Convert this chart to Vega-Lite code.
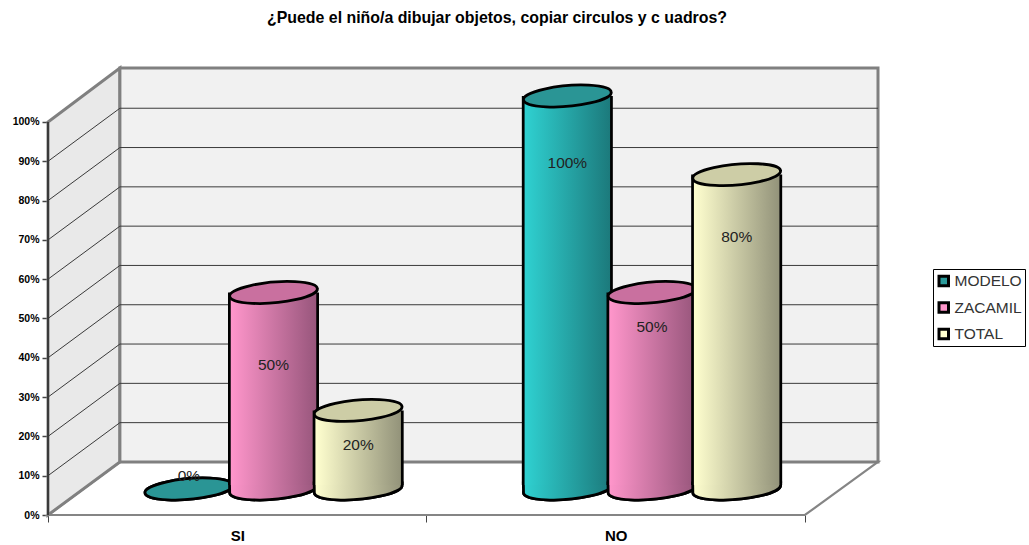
{
"$schema":"https://vega.github.io/schema/vega-lite/v6.json",
"autosize":{"type":"none"},
"padding":{"left":48,"top":68,"right":151,"bottom":30},
"width":830,"height":447,
"background":"white",
"config":{"view":{"stroke":null},"font":"Liberation Sans"},
"title":{"text":"¿Puede el niño/a dibujar objetos, copiar circulos y c uadros?","font":"Liberation Sans","fontSize":15.9,"fontWeight":"bold","color":"#000000","anchor":"middle","dx":34,"offset":36},
"datasets":{
"frame":[
{"part":"floor","x":0,"y":0,"y2":0},{"part":"floor","x":0.19,"y":0,"y2":13.5},{"part":"floor","x":2,"y":0,"y2":13.5},{"part":"floor","x":2.193,"y":13.5,"y2":13.5},
{"part":"left","x":0,"y":0,"y2":100},{"part":"left","x":0.19,"y":13.5,"y2":113.74},
{"part":"back","x":0.19,"y":13.5,"y2":113.74},{"part":"back","x":2.193,"y":13.5,"y2":113.74}
],
"grid":[
{"level":10,"x":0,"y":10},{"level":10,"x":0.19,"y":23.5},{"level":10,"x":2.193,"y":23.5},
{"level":20,"x":0,"y":20},{"level":20,"x":0.19,"y":33.5},{"level":20,"x":2.193,"y":33.5},
{"level":30,"x":0,"y":30},{"level":30,"x":0.19,"y":43.5},{"level":30,"x":2.193,"y":43.5},
{"level":40,"x":0,"y":40},{"level":40,"x":0.19,"y":53.5},{"level":40,"x":2.193,"y":53.5},
{"level":50,"x":0,"y":50},{"level":50,"x":0.19,"y":63.5},{"level":50,"x":2.193,"y":63.5},
{"level":60,"x":0,"y":60},{"level":60,"x":0.19,"y":73.5},{"level":60,"x":2.193,"y":73.5},
{"level":70,"x":0,"y":70},{"level":70,"x":0.19,"y":83.5},{"level":70,"x":2.193,"y":83.5},
{"level":80,"x":0,"y":80},{"level":80,"x":0.19,"y":93.5},{"level":80,"x":2.193,"y":93.5},
{"level":90,"x":0,"y":90},{"level":90,"x":0.19,"y":103.5},{"level":90,"x":2.193,"y":103.5}
],
"bars":[
{"answer":"SI","series":"MODELO","value":0,"label":"0%","labelAt":3.3},
{"answer":"SI","series":"ZACAMIL","value":50,"label":"50%","labelAt":31.5},
{"answer":"SI","series":"TOTAL","value":20,"label":"20%","labelAt":11.2},
{"answer":"NO","series":"MODELO","value":100,"label":"100%","labelAt":83},
{"answer":"NO","series":"ZACAMIL","value":50,"label":"50%","labelAt":41.2},
{"answer":"NO","series":"TOTAL","value":80,"label":"80%","labelAt":64.1}
]
},
"layer":[
{
"layer":[
{"data":{"name":"frame"},"transform":[{"filter":"datum.part=='floor'"}],
 "mark":{"type":"area","fill":"#ffffff","stroke":"#858585","strokeWidth":2.2,"opacity":1},
 "encoding":{
  "x":{"field":"x","type":"quantitative","scale":{"domain":[0,2.193],"nice":false,"zero":false},"axis":{"title":null,"values":[0,0.5,1,1.5,2],"labelExpr":"datum.value==0.5?'SI':datum.value==1.5?'NO':''","labelFont":"Liberation Sans","labelFontSize":15,"labelFontWeight":"bold","labelColor":"#000000","labelPadding":6,"labelOverlap":false,"labelFlush":false,"labelAngle":0,"domain":false,"grid":false,"tickColor":"#444444","tickSize":7,"tickWidth":1,"tickOpacity":{"condition":{"test":"datum.value==0.5||datum.value==1.5","value":0},"value":1}}},
  "y":{"field":"y","type":"quantitative","scale":{"domain":[0,113.74],"nice":false},"axis":{"title":null,"values":[0,10,20,30,40,50,60,70,80,90,100],"labelExpr":"datum.value+'%'","labelFont":"Liberation Sans","labelFontSize":10.5,"labelFontWeight":"bold","labelColor":"#000000","labelPadding":3,"domain":false,"grid":false,"tickColor":"#444444","tickSize":6,"tickWidth":1.5}},
  "y2":{"field":"y2"}}},
{"data":{"name":"frame"},"transform":[{"filter":"datum.part=='left'"}],
 "mark":{"type":"area","fill":"#e9e9e9","stroke":"#808080","strokeWidth":3,"opacity":1},
 "encoding":{"x":{"field":"x","type":"quantitative"},"y":{"field":"y","type":"quantitative"},"y2":{"field":"y2"}}},
{"data":{"name":"frame"},"transform":[{"filter":"datum.part=='back'"}],
 "mark":{"type":"area","fill":"#f1f1f1","stroke":"#808080","strokeWidth":3,"opacity":1},
 "encoding":{"x":{"field":"x","type":"quantitative"},"y":{"field":"y","type":"quantitative"},"y2":{"field":"y2"}}},
{"data":{"name":"grid"},
 "mark":{"type":"line","stroke":"#3a3a3a","strokeWidth":1},
 "encoding":{"x":{"field":"x","type":"quantitative"},"y":{"field":"y","type":"quantitative"},"detail":{"field":"level"}}},
{"data":{"values":[{"edge":"front"}]},"mark":{"type":"rule","stroke":"#3a3a3a","strokeWidth":2},
 "encoding":{"x":{"datum":0,"type":"quantitative"},"y":{"datum":0,"type":"quantitative"},"y2":{"datum":100}}}
]
},
{
"data":{"name":"bars"},
"encoding":{
 "x":{"field":"answer","type":"nominal","sort":["SI","NO"],"scale":{"domain":["SI","NO"],"range":[0,757],"paddingInner":0,"paddingOuter":0},"axis":null},
 "xOffset":{"field":"series","type":"nominal","sort":["MODELO","ZACAMIL","TOTAL"],"scale":{"domain":["MODELO","ZACAMIL","TOTAL"],"range":[98.5,352.5]}},
 "y":{"field":"value","type":"quantitative","stack":null,"scale":{"domain":[0,100],"range":[421,28],"nice":false},"axis":null}
},
"layer":[
{"mark":{"type":"point","filled":true,"opacity":1,"size":7744,"stroke":"#000000","strokeWidth":2.8,"shape":"M-0.996,0.087A1,0.23,-5,1,1,0.996,-0.087A1,0.23,-5,1,1,-0.996,0.087Z"},
 "encoding":{"y":{"datum":0,"type":"quantitative"},"color":{"field":"series","type":"nominal","sort":["MODELO","ZACAMIL","TOTAL"],"scale":{"domain":["MODELO","ZACAMIL","TOTAL"],"range":["#2a9a9a","#ff96cb","#ffffcf"]},"legend":{"title":null,"orient":"none","legendX":885,"legendY":201,"symbolType":"square","symbolSize":90,"symbolStrokeColor":"#000000","symbolStrokeWidth":3,"symbolOpacity":1,"labelFont":"Liberation Sans","labelFontSize":15.5,"labelColor":"#333333","labelOffset":3,"clipHeight":18,"rowPadding":8.5,"padding":3,"strokeColor":"#000000","fillColor":"#ffffff","values":["MODELO","ZACAMIL","TOTAL"]}}}},

{"transform":[{"filter":"datum.series=='MODELO' && datum.value>0"}],"mark":{"type":"point","filled":true,"opacity":1,"size":7744,"stroke":"#000000","strokeWidth":2.8,"shape":"M-1,-0.14L-0.996,0.087A1,0.23,-5,1,0,0.996,-0.087L1,-0.14Z","fill":{"gradient":"linear","x1":0,"x2":1,"y1":0,"y2":0,"stops":[{"offset":0,"color":"#2fd1d1"},{"offset":1,"color":"#1c7a7c"}]}},"encoding":{"y":{"datum":0,"type":"quantitative"}}},
{"transform":[{"filter":"datum.series=='MODELO' && datum.value>0"}],"mark":{"type":"bar","width":91,"fill":"#000000"},"encoding":{"y2":{"datum":1}}},
{"transform":[{"filter":"datum.series=='MODELO' && datum.value>0"}],"mark":{"type":"bar","width":85.5,"fill":{"gradient":"linear","x1":0,"x2":1,"y1":0,"y2":0,"stops":[{"offset":0,"color":"#2fd1d1"},{"offset":1,"color":"#1c7a7c"}]}},"encoding":{"y2":{"datum":1}}},
{"transform":[{"filter":"datum.series=='MODELO'"}],"mark":{"type":"point","filled":true,"opacity":1,"size":7744,"stroke":"#000000","strokeWidth":2.8,"shape":"M-0.996,0.087A1,0.23,-5,1,1,0.996,-0.087A1,0.23,-5,1,1,-0.996,0.087Z","fill":"#2a9595"}},

{"transform":[{"filter":"datum.series=='ZACAMIL'"}],"mark":{"type":"point","filled":true,"opacity":1,"size":7744,"stroke":"#000000","strokeWidth":2.8,"shape":"M-1,-0.14L-0.996,0.087A1,0.23,-5,1,0,0.996,-0.087L1,-0.14Z","fill":{"gradient":"linear","x1":0,"x2":1,"y1":0,"y2":0,"stops":[{"offset":0,"color":"#ff96cb"},{"offset":1,"color":"#98567c"}]}},"encoding":{"y":{"datum":0,"type":"quantitative"}}},
{"transform":[{"filter":"datum.series=='ZACAMIL'"}],"mark":{"type":"bar","width":91,"fill":"#000000"},"encoding":{"y2":{"datum":1}}},
{"transform":[{"filter":"datum.series=='ZACAMIL'"}],"mark":{"type":"bar","width":85.5,"fill":{"gradient":"linear","x1":0,"x2":1,"y1":0,"y2":0,"stops":[{"offset":0,"color":"#ff96cb"},{"offset":1,"color":"#98567c"}]}},"encoding":{"y2":{"datum":1}}},
{"transform":[{"filter":"datum.series=='ZACAMIL'"}],"mark":{"type":"point","filled":true,"opacity":1,"size":7744,"stroke":"#000000","strokeWidth":2.8,"shape":"M-0.996,0.087A1,0.23,-5,1,1,0.996,-0.087A1,0.23,-5,1,1,-0.996,0.087Z","fill":"#c9709f"}},

{"transform":[{"filter":"datum.series=='TOTAL'"}],"mark":{"type":"point","filled":true,"opacity":1,"size":7744,"stroke":"#000000","strokeWidth":2.8,"shape":"M-1,-0.14L-0.996,0.087A1,0.23,-5,1,0,0.996,-0.087L1,-0.14Z","fill":{"gradient":"linear","x1":0,"x2":1,"y1":0,"y2":0,"stops":[{"offset":0,"color":"#ffffcf"},{"offset":1,"color":"#93937a"}]}},"encoding":{"y":{"datum":0,"type":"quantitative"}}},
{"transform":[{"filter":"datum.series=='TOTAL'"}],"mark":{"type":"bar","width":91,"fill":"#000000"},"encoding":{"y2":{"datum":1}}},
{"transform":[{"filter":"datum.series=='TOTAL'"}],"mark":{"type":"bar","width":85.5,"fill":{"gradient":"linear","x1":0,"x2":1,"y1":0,"y2":0,"stops":[{"offset":0,"color":"#ffffcf"},{"offset":1,"color":"#93937a"}]}},"encoding":{"y2":{"datum":1}}},
{"transform":[{"filter":"datum.series=='TOTAL'"}],"mark":{"type":"point","filled":true,"opacity":1,"size":7744,"stroke":"#000000","strokeWidth":2.8,"shape":"M-0.996,0.087A1,0.23,-5,1,1,0.996,-0.087A1,0.23,-5,1,1,-0.996,0.087Z","fill":"#cdcda6"}},

{"mark":{"type":"text","font":"Liberation Sans","fontSize":15.5,"color":"#222222","align":"center","baseline":"middle"},
 "encoding":{"y":{"field":"labelAt","type":"quantitative"},"text":{"field":"label","type":"nominal"}}}
]
}
],
"resolve":{"scale":{"x":"independent","y":"independent"}}
}
